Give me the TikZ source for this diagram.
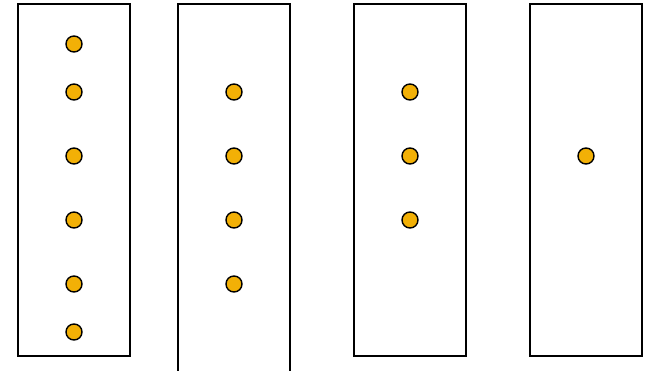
\documentclass[tikz,border=0pt]{standalone}
\definecolor{dotfill}{HTML}{F2B006}
\begin{document}
\begin{tikzpicture}[x=1pt,y=-1pt,
  lane/.style={draw=black,line width=1.6pt,fill=none},
  dot/.style={circle,draw=black,line width=1.4pt,fill=dotfill,minimum size=16pt,inner sep=0pt}]
\clip (0,0) rectangle (650,371);
\useasboundingbox (0,0) rectangle (650,371);
\draw[lane] (18,4) rectangle (130,356);
\draw[lane] (178,4) rectangle (290,390);
\draw[lane] (354,4) rectangle (466,356);
\draw[lane] (530,4) rectangle (642,356);
\foreach \y [count=\i] in {44,92,156,220,284,332} \node[dot] (a\i) at (74,\y) {};
\foreach \y [count=\i] in {92,156,220,284} \node[dot] (b\i) at (234,\y) {};
\foreach \y [count=\i] in {92,156,220} \node[dot] (c\i) at (410,\y) {};
\node[dot] (d1) at (586,156) {};
\end{tikzpicture}
\end{document}
